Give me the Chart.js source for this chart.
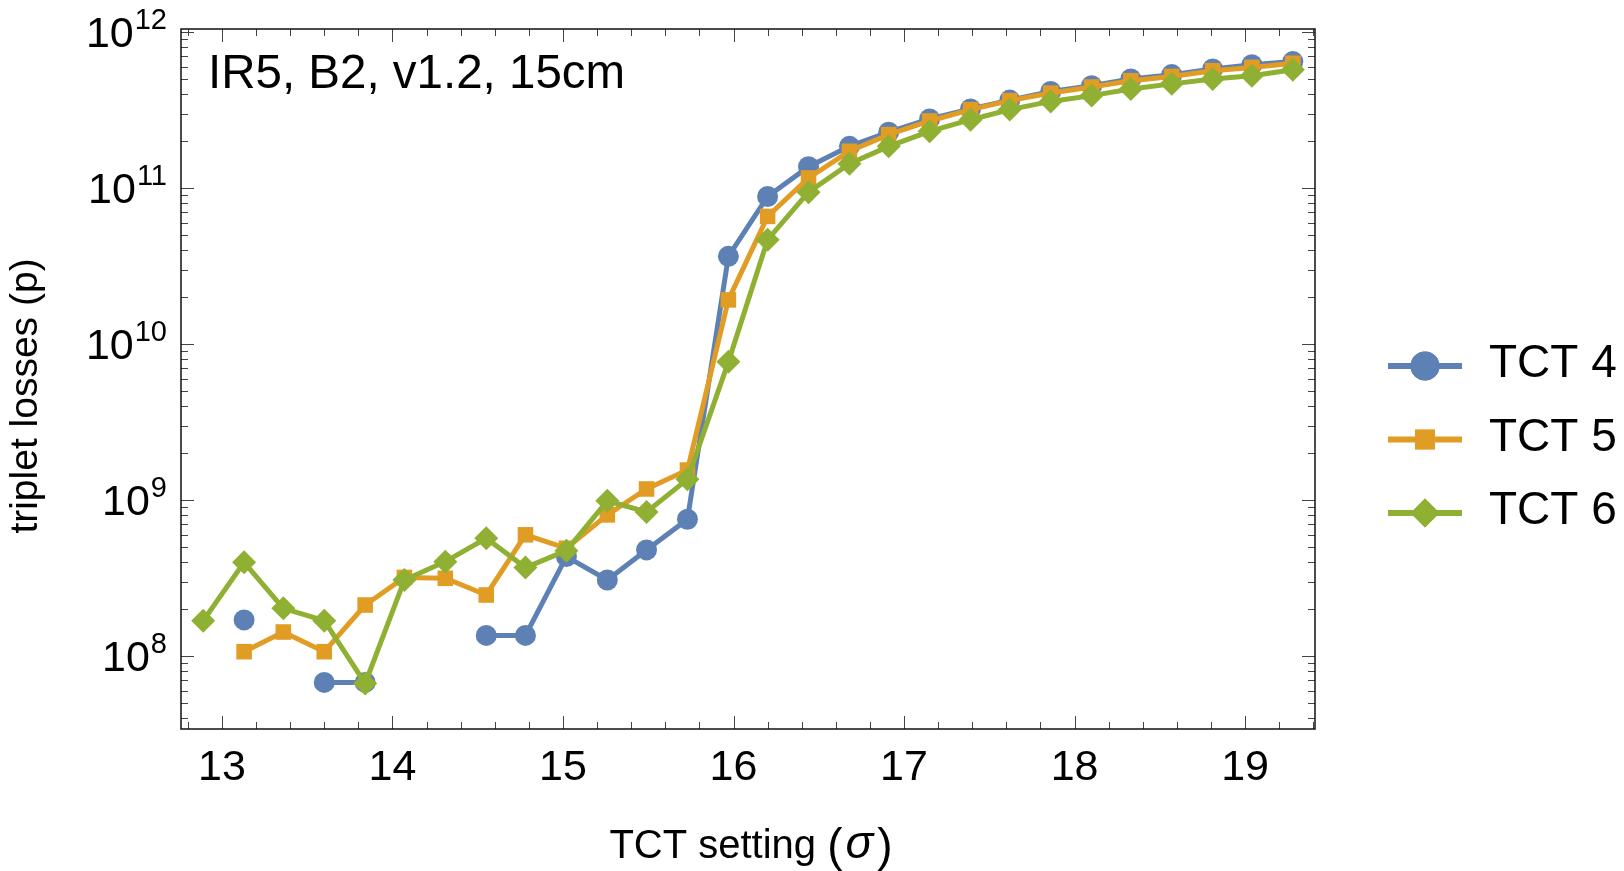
<!DOCTYPE html>
<html>
<head>
<meta charset="utf-8">
<script src="https://cdn.jsdelivr.net/npm/chart.js@4/dist/chart.umd.min.js"></script>
<style>
html, body { margin: 0; padding: 0; background: #ffffff; }
#wrap { width: 1624px; height: 871px; position: relative; }
</style>
</head>
<body>
<div id="wrap"><canvas id="c"></canvas></div>
<script>
// ---------------- data ----------------
const xValues = [12.89, 13.13, 13.36, 13.60, 13.84, 14.07, 14.31, 14.55, 14.78, 15.02,
                 15.26, 15.49, 15.73, 15.97, 16.20, 16.44, 16.68, 16.91, 17.15, 17.39,
                 17.62, 17.86, 18.10, 18.33, 18.57, 18.81, 19.04, 19.28];

const tct4 = [null, 1.71e8, null, 6.8e7, 6.8e7, null, null, 1.36e8, 1.36e8, 4.35e8,
              3.08e8, 4.8e8, 7.55e8, 3.65e10, 8.83e10, 1.37e11, 1.85e11, 2.28e11, 2.77e11, 3.21e11,
              3.66e11, 4.16e11, 4.53e11, 5.0e11, 5.33e11, 5.8e11, 6.17e11, 6.46e11];

const tct5 = [null, 1.07e8, 1.43e8, 1.07e8, 2.13e8, 3.2e8, 3.16e8, 2.47e8, 6.0e8, 4.92e8,
              8.05e8, 1.18e9, 1.56e9, 1.92e10, 6.58e10, 1.16e11, 1.72e11, 2.2e11, 2.69e11, 3.18e11,
              3.63e11, 4.06e11, 4.44e11, 4.87e11, 5.19e11, 5.65e11, 5.93e11, 6.3e11];

const tct6 = [1.69e8, 4.0e8, 2.03e8, 1.69e8, 6.7e7, 3.08e8, 4.04e8, 5.7e8, 3.7e8, 4.75e8,
              9.9e8, 8.4e8, 1.36e9, 7.7e9, 4.67e10, 9.4e10, 1.43e11, 1.85e11, 2.31e11, 2.74e11,
              3.18e11, 3.59e11, 3.91e11, 4.31e11, 4.65e11, 5.0e11, 5.24e11, 5.73e11];

const seriesLabels = ['TCT 4', 'TCT 5', 'TCT 6'];
const xTickValues = [13, 14, 15, 16, 17, 18, 19];
const yTickExponents = [8, 9, 10, 11, 12];
const annotationText = 'IR5, B2, v1.2, 15cm';
const xTitleMain = 'TCT setting ';
const xTitleSymbol = 'σ';
const yTitleText = 'triplet losses (p)';

// ---------------- styling ----------------
const FONT = '"Liberation Sans", Arial, Helvetica, sans-serif';
const COLORS = ['#5E81B5', '#E19C24', '#8FB032'];
const X_MIN = 12.76, X_MAX = 19.41;
const Y_MIN = Math.pow(10, 7.534), Y_MAX = Math.pow(10, 12.019);

function pts(ys) { return xValues.map((x, i) => ({ x: x, y: ys[i] })); }

const styles = [
  { pointStyle: 'circle', radius: 10.5, legendRadius: 14.5, order: 3 },
  { pointStyle: 'rect', radius: 11, legendRadius: 14, order: 2 },
  { pointStyle: 'rectRot', radius: 12, legendRadius: 14.5, order: 1 }
];

const datasets = [tct4, tct5, tct6].map((ys, i) => ({
  label: seriesLabels[i],
  data: pts(ys),
  borderColor: COLORS[i],
  backgroundColor: COLORS[i],
  borderWidth: 5,
  pointStyle: styles[i].pointStyle,
  pointRadius: styles[i].radius,
  pointBackgroundColor: COLORS[i],
  pointBorderColor: COLORS[i],
  pointBorderWidth: 0,
  tension: 0,
  spanGaps: false,
  order: styles[i].order,
  clip: 12
}));

// frame with inward ticks on all four sides + y tick labels with superscripts
const framePlugin = {
  id: 'frame',
  afterDraw(chart) {
    const { ctx, chartArea: a, scales: { x, y } } = chart;
    ctx.save();
    ctx.strokeStyle = '#444';
    ctx.lineWidth = 1;
    ctx.beginPath();
    for (let k = Math.ceil(X_MIN * 5); k <= Math.floor(X_MAX * 5); k++) {
      const px = Math.round(x.getPixelForValue(k / 5)) + 0.5;
      const len = (k % 5 === 0) ? 13 : 7;
      ctx.moveTo(px, a.bottom); ctx.lineTo(px, a.bottom - len);
      ctx.moveTo(px, a.top); ctx.lineTo(px, a.top + len);
    }
    for (let e = 7; e <= 12; e++) {
      for (let m = 1; m <= 9; m++) {
        const v = m * Math.pow(10, e);
        if (v < Y_MIN || v > Y_MAX) continue;
        const py = Math.round(y.getPixelForValue(v)) + 0.5;
        const len = (m === 1) ? 13 : 7;
        ctx.moveTo(a.left, py); ctx.lineTo(a.left + len, py);
        ctx.moveTo(a.right, py); ctx.lineTo(a.right - len, py);
      }
    }
    ctx.stroke();
    ctx.strokeStyle = '#111';
    ctx.lineWidth = 1.5;
    ctx.strokeRect(a.left, a.top, a.right - a.left, a.bottom - a.top);

    // y tick labels 10^n
    ctx.fillStyle = '#000';
    ctx.textBaseline = 'alphabetic';
    ctx.textAlign = 'right';
    yTickExponents.forEach(e => {
      const py = y.getPixelForValue(Math.pow(10, e));
      const expStr = String(e);
      ctx.font = '29px ' + FONT;
      const w = ctx.measureText(expStr).width;
      const xr = a.left - 14;
      ctx.fillText(expStr, xr, py - 3);
      ctx.font = '43px ' + FONT;
      ctx.fillText('10', xr - w - 1, py + 15);
    });

    // annotation in the plot
    ctx.textAlign = 'left';
    ctx.font = '47.5px ' + FONT;
    ctx.fillText(annotationText, a.left + 27, a.top + 59);

    // y axis title
    ctx.save();
    ctx.font = '39px ' + FONT;
    ctx.textAlign = 'center';
    ctx.translate(37, 396);
    ctx.rotate(-Math.PI / 2);
    ctx.fillText(yTitleText, 0, 0);
    ctx.restore();

    // x axis title with italic sigma
    ctx.font = '40px ' + FONT;
    const wMain = ctx.measureText(xTitleMain).width;
    ctx.font = '46px ' + FONT;
    const wParL = ctx.measureText('(').width;
    const wParR = ctx.measureText(')').width;
    ctx.font = 'italic 46px ' + FONT;
    const wSig = ctx.measureText(xTitleSymbol).width;
    const total = wMain + wParL + wSig + wParR + 7;
    let cx = (a.left + a.right) / 2 - total / 2 + 3;
    const base = 858;
    ctx.font = '40px ' + FONT;
    ctx.fillText(xTitleMain, cx, base); cx += wMain;
    ctx.font = '46px ' + FONT;
    ctx.fillText('(', cx, base + 3); cx += wParL + 3;
    ctx.font = 'italic 46px ' + FONT;
    ctx.fillText(xTitleSymbol, cx, base); cx += wSig + 4;
    ctx.font = '46px ' + FONT;
    ctx.fillText(')', cx, base + 3);

    // legend
    chart.data.datasets.forEach((ds, i) => {
      const ly = 366 + i * 73.5;
      ctx.strokeStyle = ds.borderColor;
      ctx.lineWidth = 6;
      ctx.beginPath();
      ctx.moveTo(1388, ly); ctx.lineTo(1462, ly);
      ctx.stroke();
      ctx.fillStyle = ds.borderColor;
      Chart.helpers.drawPoint(ctx, { pointStyle: ds.pointStyle, rotation: 0, radius: styles[i].legendRadius, borderWidth: 0 }, 1425, ly);
      ctx.fill();
      ctx.fillStyle = '#000';
      ctx.font = '46px ' + FONT;
      ctx.textAlign = 'left';
      ctx.fillText(ds.label, 1489, ly + 11);
    });
    ctx.restore();
  }
};

new Chart(document.getElementById('c'), {
  type: 'line',
  data: { datasets: datasets },
  options: {
    responsive: true,
    maintainAspectRatio: false,
    animation: false,
    events: [],
    layout: { padding: { left: 0, right: 309, top: 29, bottom: 0 } },
    plugins: { legend: { display: false }, tooltip: { enabled: false } },
    scales: {
      x: {
        type: 'linear',
        min: X_MIN,
        max: X_MAX,
        afterBuildTicks(scale) { scale.ticks = xTickValues.map(v => ({ value: v })); },
        afterFit(scale) { scale.height = 142; },
        grid: { display: false, drawTicks: false },
        border: { display: false },
        ticks: {
          padding: 13,
          color: '#000',
          font: { family: FONT, size: 43 },
          maxRotation: 0,
          autoSkip: false,
          callback: v => String(v)
        },
        title: { display: false }
      },
      y: {
        type: 'logarithmic',
        min: Y_MIN,
        max: Y_MAX,
        afterFit(scale) { scale.width = 181; },
        grid: { display: false, drawTicks: false },
        border: { display: false },
        ticks: { display: false },
        title: { display: false }
      }
    }
  },
  plugins: [framePlugin]
});
</script>
</body>
</html>
